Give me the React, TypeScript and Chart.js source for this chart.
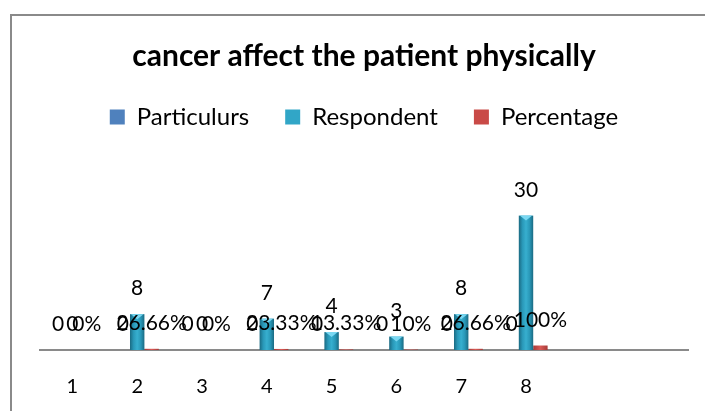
import React, { useEffect, useRef } from "react";
import { Chart, registerables } from "chart.js";

Chart.register(...registerables);

const categories = ["1", "2", "3", "4", "5", "6", "7", "8", "", ""];
const particulurs = [0, 0, 0, 0, 0, 0, 0, 0];
const respondent = [0, 8, 0, 7, 4, 3, 8, 30];
const percentage = [0, 0.2666, 0, 0.2333, 0.1333, 0.1, 0.2666, 1];

const FONT = "Lato, 'Open Sans', sans-serif";

const framePlugin = {
  id: "frame",
  beforeDraw(chart: any) {
    const c = chart.ctx;
    c.save();
    c.fillStyle = "#ffffff";
    c.fillRect(0, 0, chart.width, chart.height);
    c.strokeStyle = "#8a8a8a";
    c.lineWidth = 2;
    c.beginPath();
    c.moveTo(11, chart.height);
    c.lineTo(11, 15);
    c.lineTo(chart.width, 15);
    c.stroke();
    c.restore();
  },
};

const barPlugin = {
  id: "fancyBars",
  beforeDatasetDraw(chart: any, args: any) {
    if (args.index === 0) return true;
    const c = chart.ctx;
    const meta = args.meta;
    c.save();
    meta.data.forEach((el: any) => {
      const p = el.getProps(["x", "y", "base", "width"], true);
      const left = p.x - p.width / 2;
      const right = p.x + p.width / 2;
      const top = Math.min(p.y, p.base);
      const h = Math.abs(p.base - p.y);
      if (h <= 0) return;
      const g = c.createLinearGradient(left, 0, right, 0);
      if (args.index === 1) {
        g.addColorStop(0, "#1a6a82");
        g.addColorStop(0.25, "#2998b8");
        g.addColorStop(0.5, "#37afcf");
        g.addColorStop(0.75, "#2998b8");
        g.addColorStop(1, "#1a6a82");
      } else {
        g.addColorStop(0, "#a63b38");
        g.addColorStop(0.5, "#d85a56");
        g.addColorStop(1, "#a63b38");
      }
      c.fillStyle = g;
      c.fillRect(left, top, p.width, h);
      if (args.index === 1 && h > 4) {
        c.fillStyle = "#7ad8f2";
        c.beginPath();
        c.moveTo(left + 1, top);
        c.lineTo(right - 1, top);
        c.lineTo(p.x, top + Math.min(5, h));
        c.closePath();
        c.fill();
      }
    });
    c.restore();
    return false;
  },
};

const labelPlugin = {
  id: "valueLabels",
  afterDatasetsDraw(chart: any) {
    const c = chart.ctx;
    c.save();
    c.font = `21px ${FONT}`;
    c.fillStyle = "#000000";
    c.textAlign = "center";
    c.textBaseline = "alphabetic";
    chart.data.datasets.forEach((ds: any, di: number) => {
      const meta = chart.getDatasetMeta(di);
      meta.data.forEach((el: any, i: number) => {
        const v = ds.data[i];
        if (v === null || v === undefined) return;
        const p = el.getProps(["x", "y"], true);
        const txt = di === 2 ? `${+(v * 100).toFixed(2)}%` : `${v}`;
        c.fillText(txt, p.x, p.y - 19);
      });
    });
    c.restore();
  },
};

export default function App() {
  const ref = useRef<HTMLCanvasElement | null>(null);
  useEffect(() => {
    document.body.style.margin = "0";
    const chart = new Chart(ref.current as HTMLCanvasElement, {
      type: "bar",
      data: {
        labels: categories,
        datasets: [
          { label: "Particulurs", data: particulurs, backgroundColor: "#4F81BD" },
          { label: "Respondent", data: respondent, backgroundColor: "#31A6C7" },
          { label: "Percentage", data: percentage, backgroundColor: "#C94A47" },
        ],
      },
      options: {
        animation: false,
        responsive: false,
        categoryPercentage: 0.667,
        barPercentage: 1,
        layout: { padding: { left: 40, right: 17, top: 0, bottom: 0 } },
        plugins: {
          title: {
            display: true,
            text: "cancer affect the patient physically",
            color: "#000000",
            font: { family: FONT, size: 30, weight: "bold", lineHeight: 1 },
            padding: { top: 41, bottom: -2 },
          },
          legend: {
            display: true,
            labels: {
              color: "#000000",
              font: { family: FONT, size: 24 },
              boxWidth: 15,
              boxHeight: 15,
              padding: 36,
            },
          },
          tooltip: { enabled: false },
        },
        scales: {
          x: {
            grid: { display: false, drawTicks: false },
            border: { display: true, color: "#8a8a8a", width: 2 },
            ticks: { color: "#000000", font: { family: FONT, size: 20 }, padding: 25 },
            afterFit(scale: any) {
              scale.height = 61;
            },
          },
          y: { display: false, min: 0, max: 47.1 },
        },
      },
      plugins: [framePlugin, barPlugin, labelPlugin],
    });
    return () => chart.destroy();
  }, []);
  return <canvas ref={ref} width={705} height={411} style={{ display: "block" }} />;
}
